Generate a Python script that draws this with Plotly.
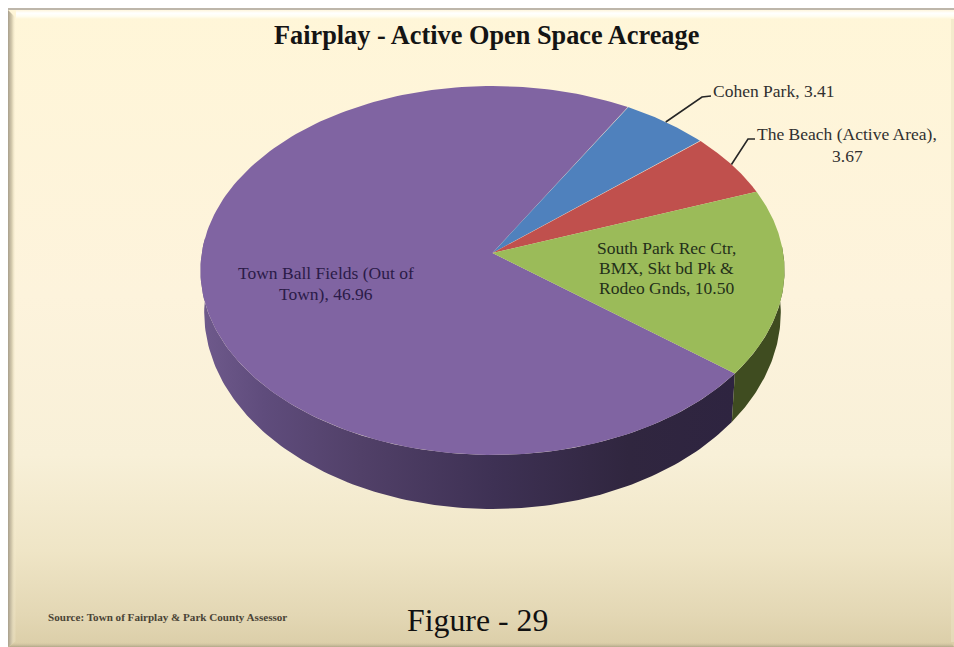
import numpy as np
import plotly.graph_objects as go

# ---- data ----
categories = ["Town Ball Fields (Out of Town)", "Cohen Park", "The Beach (Active Area)",
              "South Park Rec Ctr, BMX, Skt bd Pk & Rodeo Gnds"]
values = [46.96, 3.41, 3.67, 10.50]
top_colors = ["#8064a2", "#4f81bd", "#c0504d", "#9bbb59"]
label_lines = [["Town Ball Fields (Out of", "Town), 46.96"], ["Cohen Park, 3.41"],
               ["The Beach (Active Area),", "3.67"],
               ["South Park Rec Ctr,", "BMX, Skt bd Pk &amp;", "Rodeo Gnds, 10.50"]]
title_text = "Fairplay - Active Open Space Acreage"
source_text = "Source: Town of Fairplay &amp; Park County Assessor"
figure_text = "Figure - 29"

# ---- pie geometry (pixels on a 954x647 canvas) ----
START_DEG = 128.3          # clockwise from 12 o'clock, start of the first slice
CX, CY, R, S = 492.5, 253.0, 290.7, 182.8
CY2, R2, S2 = 293.5, 287.0, 195.0
P = 0.0949


def rim(t_deg, cy=CY, r=R, s=S):
    t = np.radians(np.asarray(t_deg, dtype=float))
    d = 1 + P * np.cos(t)
    return CX + r * np.sin(t) / d, cy - s * np.cos(t) / d


fractions = np.array(values) / sum(values) * 360
edges = START_DEG + np.concatenate([[0], np.cumsum(fractions)])

fig = go.Figure()


def poly(xs, ys, color=None, gradient=None):
    kw = dict(x=list(xs), y=list(ys), mode="lines", fill="toself", line=dict(width=0),
              hoverinfo="skip", showlegend=False)
    if gradient:
        kw["fillgradient"] = gradient
    else:
        kw["fillcolor"] = color
    fig.add_trace(go.Scatter(**kw))


# ---- panel with gradient and bevel ----
L, T, RT, B = 8, 8, 954, 647
poly([L, RT, RT, L, L], [T, T, B, B, T], gradient=dict(
    type="vertical", start=T, stop=B,
    colorscale=[[0, "#fff6d8"], [0.45, "#fdf3dc"], [0.7, "#f8f0d8"], [0.85, "#efe5c6"], [0.95, "#e3d7b4"], [1, "#dbcea8"]]))
poly([L, RT, RT, L, L], [T, T, T + 2, T + 2, T], color="#bdb6aa")
poly([L + 8, RT, RT, L + 8, L + 8], [T + 2, T + 2, T + 11, T + 11, T + 2], gradient=dict(
    type="vertical", start=T + 2, stop=T + 11,
    colorscale=[[0, "#fff6dc"], [0.35, "#ffffff"], [0.7, "#fffdf0"], [1, "#fff6d8"]]))
poly([L, L + 8, L + 8, L, L], [T + 2, T + 10, B - 6, B, T + 2], gradient=dict(
    type="horizontal", start=L, stop=L + 8,
    colorscale=[[0, "#a89f8c"], [0.5, "#d8ceb0"], [1, "rgba(255,246,216,0)"]]))
poly([L, RT, RT - 3, L + 8, L], [B, B, B - 5, B - 5, B], gradient=dict(
    type="vertical", start=B - 5, stop=B,
    colorscale=[[0, "rgba(219,206,168,0)"], [1, "#b2a788"]]))
poly([RT - 3, RT, RT, RT - 3, RT - 3], [T + 11, T + 11, B - 5, B - 5, T + 11], color="rgba(235,225,195,0.55)")

# ---- pie side walls, from the same slice angles ----
t = np.linspace(edges[0], 275, 140)
ux, uy = rim(t)
lx, ly = rim(t, CY2, R2, S2)
poly(np.r_[ux, lx[::-1], ux[0]], np.r_[uy, ly[::-1], uy[0]], gradient=dict(
    type="horizontal", start=200, stop=735,
    colorscale=[[0, "#6f5a8c"], [0.12, "#5f4c7c"], [0.3, "#514068"], [0.55, "#3e3154"], [0.8, "#30263f"], [1, "#2e2440"]]))
t = np.linspace(88, edges[0], 60)
ux, uy = rim(t)
lx, ly = rim(t, CY2, R2, S2)
poly(np.r_[ux, lx[::-1], ux[0]], np.r_[uy, ly[::-1], uy[0]], color="#3f4c20")

# ---- top faces ----
for i, c in enumerate(top_colors):
    t = np.linspace(edges[i], edges[i + 1], 200)
    x, y = rim(t)
    poly(np.r_[CX, x, CX], np.r_[CY, y, CY], color=c)

# ---- leader lines, anchored on the slice mid-angles ----
leader_ends = {1: [(702, 97), (711, 96)], 2: [(748, 139), (755, 139)]}
for i, pts in leader_ends.items():
    x0, y0 = rim((edges[i] + edges[i + 1]) / 2)
    fig.add_trace(go.Scatter(x=[float(x0)] + [p[0] for p in pts], y=[float(y0)] + [p[1] for p in pts],
                             mode="lines", line=dict(color="#262626", width=1.6),
                             hoverinfo="skip", showlegend=False))


def text(x, y, s, size, color, anchor="center", family="Liberation Serif"):
    fig.add_annotation(x=x, y=y, xref="x", yref="y", text=s, showarrow=False, xanchor=anchor, yanchor="middle",
                       align="center", font=dict(family=family, size=size, color=color))


def label(x, y0, step, lines, color):
    for k, s in enumerate(lines):
        text(x, y0 + k * step, s, 17.5, color)


text(486.5, 35, f"<b>{title_text}</b>", 26.3, "#141414")
label(326, 273, 20.5, label_lines[0], "#2b1b48")
label(773.5, 91, 0, label_lines[1], "#303030")
label(847, 134, 21.5, label_lines[2], "#303030")
label(666, 248, 20, label_lines[3], "#24301a")
text(46, 617, f"<b>{source_text}</b>", 11.1, "#4a4436", anchor="left")
text(477.5, 620, figure_text, 31.8, "#111111")

fig.update_layout(
    width=954, height=647, margin=dict(l=0, r=0, t=0, b=0), paper_bgcolor="#ffffff", plot_bgcolor="#ffffff",
    xaxis=dict(range=[0, 954], visible=False, fixedrange=True),
    yaxis=dict(range=[647, 0], visible=False, fixedrange=True),
)
fig.write_html("out.html", config={"displayModeBar": False},
               post_script="document.body.style.margin='0';document.documentElement.style.overflow='hidden';")
